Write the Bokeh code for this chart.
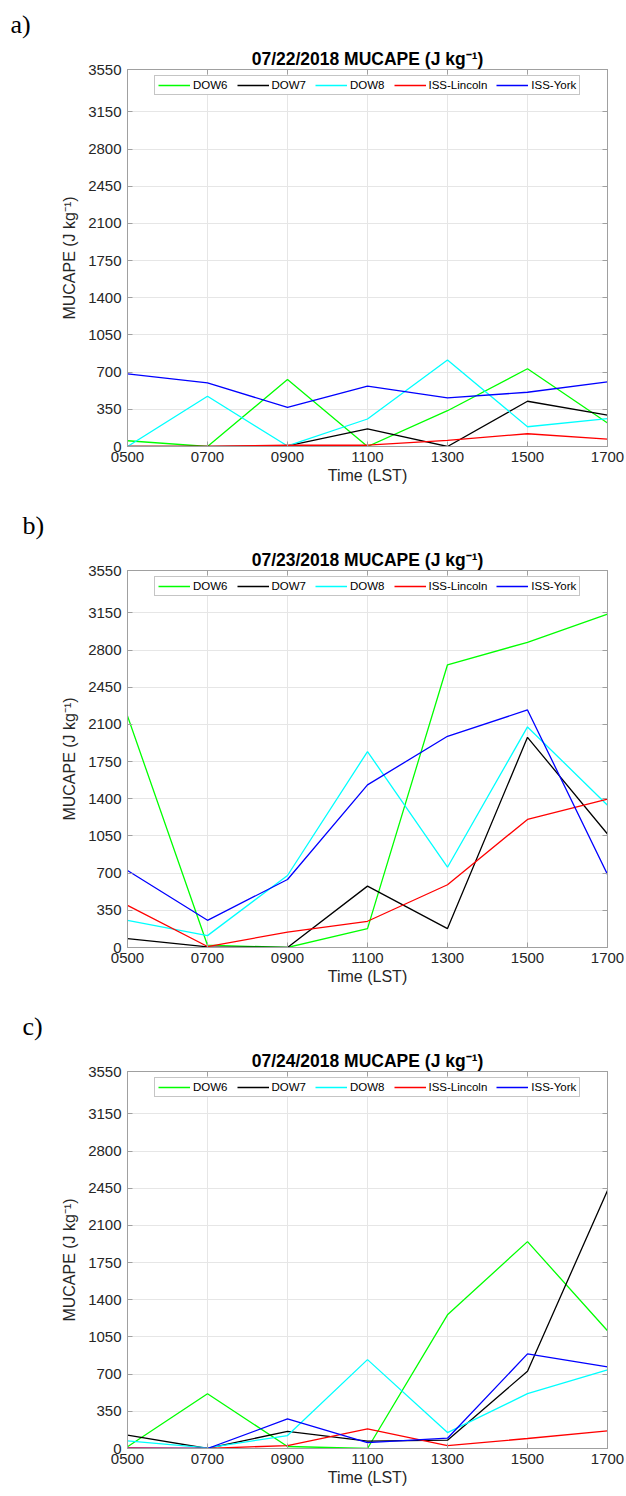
from bokeh.plotting import figure
from bokeh.models import (FixedTicker, Range1d, LinearAxis, Title, Legend, LegendItem)
from bokeh.layouts import column
from bokeh.embed import file_html
from bokeh.resources import INLINE

# ---------------- data ----------------
hours = [5, 7, 9, 11, 13, 15, 17]
time_labels = ["0500", "0700", "0900", "1100", "1300", "1500", "1700"]
y_ticks = [0, 350, 700, 1050, 1400, 1750, 2100, 2450, 2800, 3150, 3550]
dates = ["07/22/2018", "07/23/2018", "07/24/2018"]
panel_tags = ["a)", "b)", "c)"]
series_names = ["DOW6", "DOW7", "DOW8", "ISS-Lincoln", "ISS-York"]

# MUCAPE (J/kg), one list per day
dow6 = [
    [54, 0, 631, 0, 337, 732, 221],
    [2180, 22, 0, 178, 2662, 2874, 3140],
    [16, 516, 19, 0, 1259, 1948, 1109],
]
dow7 = [
    [0, 0, 5, 167, 0, 426, 296],
    [84, 6, 0, 578, 178, 1979, 1069],
    [125, 0, 162, 69, 78, 728, 2430],
]
dow8 = [
    [0, 473, 5, 259, 814, 186, 262],
    [256, 112, 678, 1845, 756, 2077, 1340],
    [72, 6, 122, 837, 150, 516, 741],
]
iss_lincoln = [
    [0, 0, 12, 12, 57, 120, 69],
    [397, 9, 144, 247, 591, 1206, 1397],
    [6, 0, 28, 184, 28, 94, 166],
]
iss_york = [
    [684, 599, 369, 568, 457, 511, 609],
    [725, 256, 640, 1531, 1989, 2237, 688],
    [0, 0, 278, 56, 97, 891, 769],
]
all_series = [dow6, dow7, dow8, iss_lincoln, iss_york]
colors = ["#00ff00", "#000000", "#00ffff", "#ff0000", "#0000ff"]

# ---------------- style ----------------
FONT = "Liberation Sans"
AX_COL = "#a0a0a0"
TXT_COL = "#262626"
GRID_COL = "#e6e6e6"

x_over = {h: t for h, t in zip(hours, time_labels)}


def make_panel(i, height, bottom):
    p = figure(width=626, height=height,
               x_range=Range1d(hours[0], hours[-1]),
               y_range=Range1d(0, 3550),
               output_backend="svg", toolbar_location=None,
               min_border_left=127, min_border_right=19,
               min_border_top=68, min_border_bottom=bottom)
    p.title_location = None
    p.background_fill_color = "white"
    p.outline_line_color = AX_COL

    xt = FixedTicker(ticks=hours)
    yt = FixedTicker(ticks=y_ticks)

    xa = p.xaxis[0]
    xa.ticker = xt
    xa.major_label_overrides = x_over
    xa.axis_label = "Time (LST)"
    ya = p.yaxis[0]
    ya.ticker = yt
    ya.axis_label = "MUCAPE (J kg\u207b\u00b9)"

    for ax in (xa, ya):
        ax.axis_line_color = AX_COL
        ax.major_tick_line_color = AX_COL
        ax.major_tick_in = 5
        ax.major_tick_out = 0
        ax.minor_tick_line_color = None
        ax.major_label_text_font = FONT
        ax.major_label_text_font_size = "15px"
        ax.major_label_text_color = TXT_COL
        ax.axis_label_text_font = FONT
        ax.axis_label_text_font_size = "16px"
        ax.axis_label_text_font_style = "normal"
        ax.axis_label_text_color = TXT_COL
    xa.major_label_standoff = 5
    xa.axis_label_standoff = 2
    ya.major_label_standoff = 6
    ya.axis_label_standoff = 7

    top = LinearAxis(ticker=xt, major_label_overrides={h: "" for h in hours},
                     major_label_text_font_size="0px")
    right = LinearAxis(ticker=yt, major_label_overrides={v: "" for v in y_ticks},
                       major_label_text_font_size="0px")
    for ax in (top, right):
        ax.axis_line_color = AX_COL
        ax.major_tick_line_color = AX_COL
        ax.major_tick_in = 5
        ax.major_tick_out = 0
        ax.minor_tick_line_color = None
        ax.major_label_standoff = 0
    p.add_layout(top, "above")
    p.add_layout(right, "right")

    main_title = Title(text=dates[i] + " MUCAPE (J kg\u207b\u00b9)", align="center",
                       text_font=FONT, text_font_size="17.5px", text_font_style="bold",
                       text_color="#000000", standoff=1)
    p.add_layout(main_title, "above")
    tag = Title(text=panel_tags[i], align="left", offset=(-117 if i == 0 else -105),
                text_font="Liberation Serif", text_font_size="26px",
                text_font_style="normal", text_color="#000000", standoff=15)
    p.add_layout(tag, "above")

    p.xgrid.ticker = xt
    p.ygrid.ticker = yt
    p.xgrid.grid_line_color = GRID_COL
    p.ygrid.grid_line_color = GRID_COL

    items = []
    for name, data, c in zip(series_names, all_series, colors):
        r = p.line(hours, data[i], line_color=c, line_width=1.3)
        items.append(LegendItem(label=name, renderers=[r]))

    leg = Legend(items=items, orientation="horizontal", location=(27, 351),
                 label_text_font=FONT, label_text_font_size="11.5px",
                 label_text_color="#000000",
                 glyph_width=32, glyph_height=12, label_height=12,
                 label_standoff=3, spacing=9, padding=3, margin=0,
                 border_line_color="#8c8c8c", border_line_width=1,
                 background_fill_color="white", background_fill_alpha=1)
    p.add_layout(leg)
    return p


p1 = make_panel(0, 501, 55)
p2 = make_panel(1, 501, 55)
p3 = make_panel(2, 494, 48)
layout = column(p1, p2, p3, spacing=0)

open("out.html", "w").write(file_html(layout, INLINE))
